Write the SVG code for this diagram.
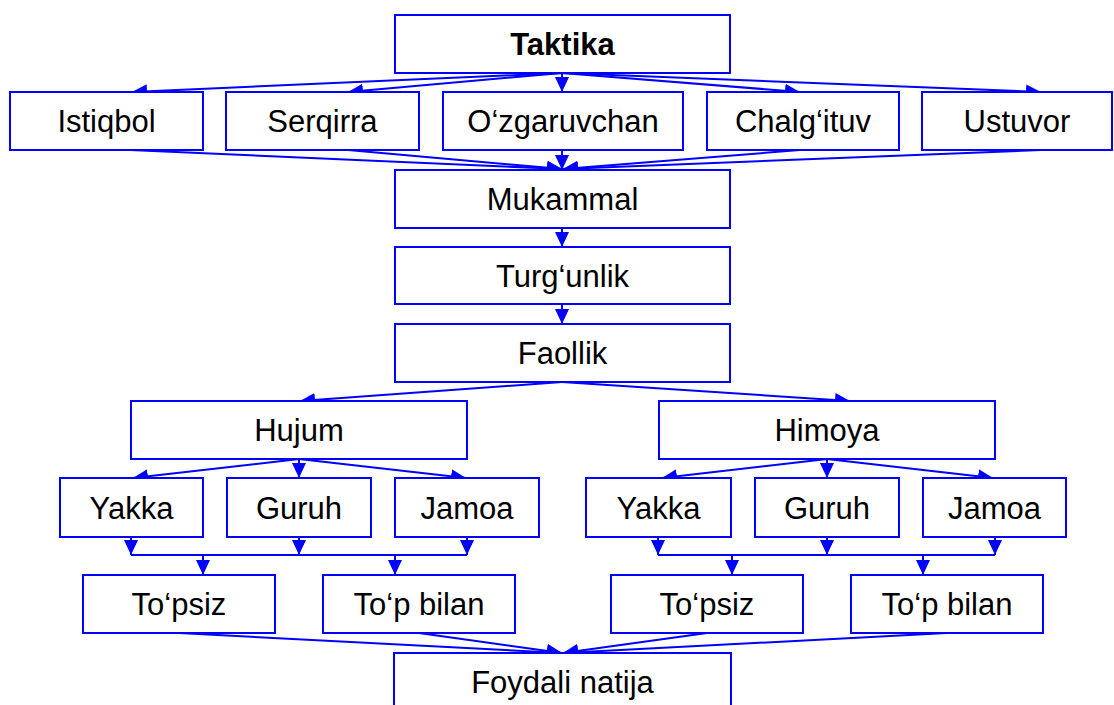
<svg xmlns="http://www.w3.org/2000/svg" width="1114" height="705" viewBox="0 0 1114 705">
<style>
.box{fill:#fff;stroke:#0000ff;stroke-width:2}
.t{font-family:"Liberation Sans",Arial,sans-serif;font-size:31px;fill:#000;text-anchor:middle}
.b{font-weight:bold}
.c{fill:none;stroke:#0000ff;stroke-width:2}
.a{fill:none;stroke:#0000ff;stroke-width:2;marker-end:url(#ah)}
</style>
<defs>
<marker id="ah" markerUnits="userSpaceOnUse" markerWidth="16" markerHeight="15" refX="15" refY="7" orient="auto">
<path d="M0,0 L15,7 L0,14 z" fill="#0000ff"/>
</marker>
</defs>
<rect width="1114" height="705" fill="#fff"/>
<g id="connectors">
<line class="a" x1="562" y1="73" x2="132" y2="92"/>
<line class="a" x1="562" y1="73" x2="348" y2="92"/>
<line class="a" x1="562" y1="73" x2="562" y2="92"/>
<line class="a" x1="562" y1="73" x2="800" y2="92"/>
<line class="a" x1="562" y1="73" x2="1041" y2="92"/>
<line class="a" x1="130" y1="150" x2="562" y2="169"/>
<line class="a" x1="348" y1="150" x2="562" y2="169"/>
<line class="a" x1="562" y1="150" x2="562" y2="170"/>
<line class="a" x1="800" y1="150" x2="563" y2="169"/>
<line class="a" x1="1041" y1="150" x2="563" y2="169"/>
<line class="a" x1="562" y1="228" x2="562" y2="247"/>
<line class="a" x1="562" y1="304" x2="562" y2="324"/>
<line class="a" x1="562" y1="382" x2="300" y2="401"/>
<line class="a" x1="562" y1="382" x2="850" y2="401"/>
<line class="a" x1="299" y1="459" x2="133" y2="478"/>
<line class="a" x1="299" y1="459" x2="299" y2="478"/>
<line class="a" x1="299" y1="459" x2="466" y2="478"/>
<line class="a" x1="827" y1="459" x2="662" y2="478"/>
<line class="a" x1="827" y1="459" x2="827" y2="478"/>
<line class="a" x1="827" y1="459" x2="993" y2="478"/>
<line class="a" x1="131" y1="537" x2="131" y2="555"/>
<line class="a" x1="299" y1="537" x2="299" y2="555"/>
<line class="a" x1="467" y1="537" x2="467" y2="555"/>
<line class="c" x1="131" y1="555" x2="467" y2="555"/>
<line class="a" x1="203" y1="555" x2="203" y2="575"/>
<line class="a" x1="395" y1="555" x2="395" y2="575"/>
<line class="a" x1="658" y1="537" x2="658" y2="555"/>
<line class="a" x1="827" y1="537" x2="827" y2="555"/>
<line class="a" x1="995" y1="537" x2="995" y2="555"/>
<line class="c" x1="658" y1="555" x2="995" y2="555"/>
<line class="a" x1="732" y1="555" x2="732" y2="575"/>
<line class="a" x1="923" y1="555" x2="923" y2="575"/>
<line class="a" x1="179" y1="633" x2="562" y2="653"/>
<line class="a" x1="419" y1="633" x2="562" y2="653"/>
<line class="a" x1="707" y1="633" x2="563" y2="653"/>
<line class="a" x1="947" y1="633" x2="563" y2="653"/>
</g>
<g id="taktika"><rect class="box" x="395" y="15" width="335" height="58"/><text class="t b" x="562.5" y="55">Taktika</text></g>
<g id="istiqbol"><rect class="box" x="10" y="92" width="193" height="58"/><text class="t" x="106.5" y="132">Istiqbol</text></g>
<g id="serqirra"><rect class="box" x="226" y="92" width="193" height="58"/><text class="t" x="322.5" y="132">Serqirra</text></g>
<g id="ozgaruvchan"><rect class="box" x="443" y="92" width="240" height="58"/><text class="t" x="563" y="132">O‘zgaruvchan</text></g>
<g id="chalgituv"><rect class="box" x="707" y="92" width="192" height="58"/><text class="t" x="803" y="132">Chalg‘ituv</text></g>
<g id="ustuvor"><rect class="box" x="922" y="92" width="190" height="58"/><text class="t" x="1017" y="132">Ustuvor</text></g>
<g id="mukammal"><rect class="box" x="395" y="170" width="335" height="58"/><text class="t" x="562.5" y="210">Mukammal</text></g>
<g id="turgunlik"><rect class="box" x="395" y="247" width="335" height="57"/><text class="t" x="562.5" y="286.5">Turg‘unlik</text></g>
<g id="faollik"><rect class="box" x="395" y="324" width="335" height="58"/><text class="t" x="562.5" y="364">Faollik</text></g>
<g id="hujum"><rect class="box" x="131" y="401" width="336" height="58"/><text class="t" x="299" y="441">Hujum</text></g>
<g id="himoya"><rect class="box" x="659" y="401" width="336" height="58"/><text class="t" x="827" y="441">Himoya</text></g>
<g id="yakka1"><rect class="box" x="60" y="478" width="143" height="59"/><text class="t" x="131.5" y="518.5">Yakka</text></g>
<g id="guruh1"><rect class="box" x="227" y="478" width="144" height="59"/><text class="t" x="299" y="518.5">Guruh</text></g>
<g id="jamoa1"><rect class="box" x="395" y="478" width="144" height="59"/><text class="t" x="467" y="518.5">Jamoa</text></g>
<g id="yakka2"><rect class="box" x="586" y="478" width="145" height="59"/><text class="t" x="658.5" y="518.5">Yakka</text></g>
<g id="guruh2"><rect class="box" x="755" y="478" width="144" height="59"/><text class="t" x="827" y="518.5">Guruh</text></g>
<g id="jamoa2"><rect class="box" x="923" y="478" width="143" height="59"/><text class="t" x="994.5" y="518.5">Jamoa</text></g>
<g id="topsiz1"><rect class="box" x="83" y="575" width="192" height="58"/><text class="t" x="179" y="615">To‘psiz</text></g>
<g id="topbilan1"><rect class="box" x="323" y="575" width="192" height="58"/><text class="t" x="419" y="615">To‘p bilan</text></g>
<g id="topsiz2"><rect class="box" x="611" y="575" width="192" height="58"/><text class="t" x="707" y="615">To‘psiz</text></g>
<g id="topbilan2"><rect class="box" x="851" y="575" width="192" height="58"/><text class="t" x="947" y="615">To‘p bilan</text></g>
<g id="foydali"><rect class="box" x="394" y="653" width="337" height="58"/><text class="t" x="562.5" y="693">Foydali natija</text></g>
</svg>
